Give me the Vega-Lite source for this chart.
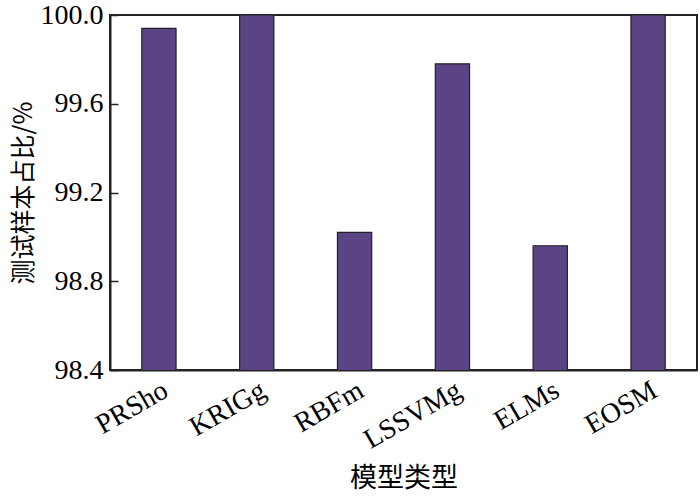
{
  "$schema": "https://vega.github.io/schema/vega-lite/v6.json",
  "autosize": "none",
  "width": 587,
  "height": 355,
  "padding": {"left": 110, "top": 15, "right": 3, "bottom": 126},
  "background": "white",
  "config": {
    "view": {"stroke": "#222", "strokeWidth": 2},
    "axis": {"grid": false, "domainColor": "#222", "domainWidth": 2, "tickColor": "#222", "labelColor": "#000", "titleColor": "#000"}
  },
  "data": {"values": [
    {"model": "PRSho", "value": 99.94},
    {"model": "KRIGg", "value": 100.0},
    {"model": "RBFm", "value": 99.02},
    {"model": "LSSVMg", "value": 99.78},
    {"model": "ELMs", "value": 98.96},
    {"model": "EOSM", "value": 100.0}
  ]},
  "mark": {"type": "bar", "fill": "#5a4486", "stroke": "#222", "strokeWidth": 1.2, "clip": true},
  "encoding": {
    "x": {
      "field": "model", "type": "nominal", "sort": null,
      "scale": {"paddingInner": 0.65, "paddingOuter": 0.325},
      "axis": {
        "title": "模型类型", "titleFont": "Noto Sans CJK SC", "titleFontSize": 27, "titleFontWeight": "normal", "titlePadding": 12,
        "labelFont": "Liberation Serif", "labelFontSize": 28, "labelAngle": -30, "labelAlign": "right", "labelBaseline": "top",
        "ticks": false, "labelPadding": 6
      }
    },
    "y": {
      "field": "value", "type": "quantitative",
      "scale": {"domain": [98.4, 100.0], "zero": false, "nice": false},
      "axis": {
        "title": "测试样本占比/%", "titleFont": "Noto Sans CJK SC", "titleFontSize": 25, "titleFontWeight": "normal", "titlePadding": 4,
        "labelFont": "Liberation Serif", "labelFontSize": 28, "values": [98.4, 98.8, 99.2, 99.6, 100.0], "format": ".1f",
        "tickSize": -8, "tickWidth": 1.5, "labelPadding": 15
      }
    }
  }
}
